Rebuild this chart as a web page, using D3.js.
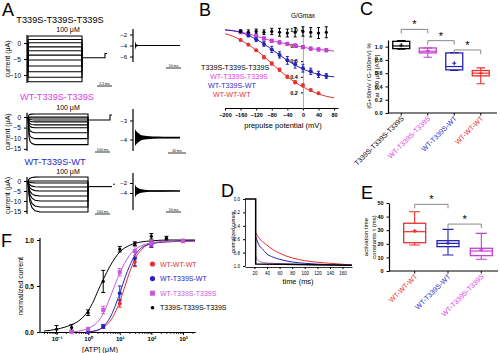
<!DOCTYPE html>
<html>
<head>
<meta charset="utf-8">
<script src="https://cdn.jsdelivr.net/npm/d3@7"></script>
<style>
  body { margin: 0; background: #fff; }
  svg { font-family: "Liberation Sans", Arial, sans-serif; }
</style>
</head>
<body>
<svg id="fig" width="500" height="353"></svg>
<script>
"use strict";

// ---------- groups ----------
var aGroups = ["T339S-T339S-T339S", "WT-T339S-T339S", "WT-T339S-WT", "WT-WT-WT"];
var aColors = ["#000000", "#c640d2", "#2424b4", "#e8302c"];

// ---------- A: current traces (μA) ----------
var aTraceLevels1 = [2.2, 1.1, 0.1, -1.2, -2.4, -3.8, -5.3, -7.2, -9.0, -10.7, -12.1];
var aTraceLevels2 = [1.4, 0, -0.5, -1.4, -2.3, -3.7, -5.1, -7.4, -10.2, -13.0];
var aTraceLevels3 = [2.0, 0, -1.0, -3.0, -5.0, -7.5, -10.0, -13.0, -15.5];
var aOnsetTime = [0, 1, 2, 4, 7, 12];
var aOnsetFrac1 = [1, 1, 1, 1, 1, 1];
var aOnsetFrac2 = [0, 0.7, 0.88, 0.96, 1, 1];
var aOnsetFrac3 = [0, 0.45, 0.68, 0.86, 0.96, 1];
var aTailLevels = [-4.6, -1.4, -2.8];
var aTailStep = [-3.3, 0.9, -2.8];
var aInsetTime = [0, 1, 3, 5, 8, 12, 18, 28, 45];
var aInsetEnv1 = [0.8, 0.3, 0.08, 0.06, 0.05, 0.05, 0.05, 0.05, 0.05];
var aInsetEnv2 = [0.45, 0.36, 0.25, 0.17, 0.11, 0.08, 0.06, 0.05, 0.04];
var aInsetEnv3 = [1.3, 0.9, 0.6, 0.42, 0.3, 0.22, 0.17, 0.14, 0.12];
var aInsetMid = [-4.0, -3.9, -3.6];

// ---------- B: G/Gmax vs prepulse potential ----------
var aVoltB = [-160, -140, -120, -100, -80, -60, -40, -20, 0, 20, 40, 60];
var aGBlack = [0.98, 0.97, 0.98, 0.97, 0.98, 0.97, 0.96, 0.97, 0.98, 0.97, 0.96, 0.97];
var aGBlackErr = [0.02, 0.03, 0.03, 0.03, 0.04, 0.05, 0.05, 0.06, 0.06, 0.06, 0.07, 0.07];
var aGMag = [0.97, 0.95, 0.92, 0.89, 0.86, 0.84, 0.82, 0.80, 0.78, 0.76, 0.75, 0.74];
var aGMagErr = [0.01, 0.01, 0.01, 0.02, 0.02, 0.02, 0.02, 0.02, 0.02, 0.02, 0.02, 0.02];
var aGBlue = [0.98, 0.93, 0.88, 0.82, 0.75, 0.68, 0.61, 0.56, 0.51, 0.47, 0.43, 0.41];
var aGBlueErr = [0.02, 0.02, 0.03, 0.03, 0.04, 0.04, 0.05, 0.05, 0.05, 0.04, 0.04, 0.03];
var aGRed = [0.87, 0.81, 0.74, 0.65, 0.57, 0.49, 0.40, 0.33, 0.29, 0.23, 0.19];
var aGRedErr = [0.01, 0.01, 0.01, 0.02, 0.02, 0.02, 0.02, 0.02, 0.02, 0.01, 0.01];
var aFitVolt = [-200, -180, -160, -140, -120, -100, -80, -60, -40, -20, 0, 20, 40, 60, 80];
var aFitMagB = [1.0, 0.99, 0.97, 0.95, 0.92, 0.89, 0.86, 0.84, 0.82, 0.80, 0.78, 0.76, 0.75, 0.74, 0.73];
var aFitBlueB = [1.0, 0.99, 0.97, 0.93, 0.88, 0.82, 0.75, 0.68, 0.61, 0.55, 0.50, 0.46, 0.43, 0.41, 0.40];
var aFitRedB = [0.95, 0.92, 0.87, 0.81, 0.74, 0.66, 0.57, 0.48, 0.40, 0.33, 0.27, 0.22, 0.18, 0.15, 0.13];

// ---------- C: box stats [min, q1, median, q3, max, mean] ----------
var aBoxC = [
    [0.96, 0.97, 1.01, 1.08, 1.09, 1.02],
    [0.84, 0.905, 0.93, 0.98, 0.98, 0.94],
    [0.64, 0.65, 0.70, 0.905, 0.91, 0.75],
    [0.44, 0.56, 0.60, 0.64, 0.68, 0.60]
];
var aSigC = [[0, 1, 1.26], [1, 2, 1.09], [2, 3, 0.95]];

// ---------- D: normalized current vs time ----------
var aTimeDRed = [22, 25, 30, 40, 50, 60, 80, 100, 140, 175];
var aCurDRed = [0.5, 0.55, 0.61, 0.69, 0.76, 0.81, 0.88, 0.92, 0.96, 0.985];
var aTimeDBlue = [22, 25, 28, 33, 40, 50, 60, 80, 100, 140, 175];
var aCurDBlue = [0.56, 0.64, 0.7, 0.75, 0.82, 0.87, 0.9, 0.94, 0.96, 0.98, 0.99];
var aTimeDMag = [22, 24, 28, 35, 50, 80, 120, 175];
var aCurDMag = [0.85, 0.9, 0.93, 0.95, 0.96, 0.97, 0.985, 0.99];
var aTimeDBlack = [5, 22, 22, 60, 175];
var aCurDBlack = [0, 0, 0.97, 0.975, 0.99];

// ---------- E: activation time constants (ms) ----------
var aGroupsE = ["WT-WT-WT", "WT-T339S-WT", "WT-T339S-T339S"];
var aColorsE = ["#e8302c", "#2424b4", "#c640d2"];
var aBoxE = [
    [19.1, 20.8, 28.9, 35.1, 43.6, 29.5],
    [11.8, 17.9, 20.3, 22.3, 30.6, 20.5],
    [8.6, 11.3, 14.7, 16.7, 27.7, 15.5]
];
var aSigE = [[0, 1, 49], [1, 2, 34.5]];

// ---------- F: dose response ----------
var aConcBlack = [0.1, 0.3, 1, 3, 10, 30, 100, 300];
var aRespBlack = [0.03, 0.05, 0.21, 0.55, 0.9, 0.96, 1.04, 1.02];
var aErrBlack = [0.04, 0.03, 0.03, 0.12, 0.03, 0.02, 0.03, 0.02];
var aConcMag = [0.3, 1, 3, 10, 30, 100, 1000];
var aRespMag = [0.0, 0.03, 0.24, 0.65, 0.88, 0.96, 0.99];
var aErrMag = [0.01, 0.02, 0.04, 0.04, 0.05, 0.03, 0.02];
var aConcBlue = [1, 3, 10, 30, 100, 1000];
var aRespBlue = [0.0, 0.06, 0.42, 0.8, 0.95, 0.99];
var aErrBlue = [0.01, 0.02, 0.08, 0.08, 0.03, 0.01];
var aConcRed = [1, 3, 10, 30, 100, 1000];
var aRespRed = [0.0, 0.06, 0.31, 0.76, 0.95, 0.99];
var aErrRed = [0.01, 0.02, 0.04, 0.05, 0.03, 0.01];
var aFitConcBlack = [0.04, 0.1, 0.3, 0.5, 1, 1.5, 2, 3, 5, 10, 20, 50, 100, 300, 2400];
var aFitBlack = [0.01, 0.03, 0.08, 0.12, 0.23, 0.34, 0.44, 0.57, 0.72, 0.87, 0.94, 0.98, 0.99, 1.0, 1.0];
var aFitConcMag = [0.25, 0.5, 1, 2, 3, 5, 10, 20, 50, 100, 300, 2400];
var aFitMag = [0.0, 0.01, 0.04, 0.11, 0.2, 0.38, 0.64, 0.83, 0.94, 0.97, 0.985, 0.99];
var aFitConcBlue = [0.9, 2, 3, 5, 10, 15, 20, 30, 50, 100, 300, 2400];
var aFitBlue = [0.0, 0.02, 0.06, 0.16, 0.42, 0.6, 0.71, 0.83, 0.92, 0.96, 0.98, 0.99];
var aFitConcRed = [1, 2, 3, 5, 10, 15, 20, 30, 50, 100, 300, 2400];
var aFitRed = [0.0, 0.02, 0.05, 0.12, 0.33, 0.51, 0.64, 0.79, 0.9, 0.96, 0.98, 0.99];
var aLegendF = ["WT-WT-WT", "WT-T339S-WT", "WT-T339S-T339S", "T339S-T339S-T339S"];
var aLegendFColors = ["#e8302c", "#2424c8", "#c85ad8", "#000000"];

var svg = d3.select("#fig");

// ---------- helpers ----------
function txt(g, s, x, y, opt) {
    opt = opt || {};
    var t = g.append("text").attr("x", x).attr("y", y)
        .attr("font-size", opt.size || 7)
        .attr("fill", opt.color || "#000")
        .attr("text-anchor", opt.anchor || "start")
        .text(s);
    if (opt.bold) t.attr("font-weight", "bold");
    if (opt.rotate) t.attr("transform", "rotate(" + opt.rotate + "," + x + "," + y + ")");
    return t;
}

function styleAxis(g, fs, bold, color) {
    g.attr("font-family", null).attr("font-size", fs);
    g.select("path.domain").attr("stroke-width", 1.2).attr("stroke", color || "#000");
    g.selectAll(".tick line").attr("stroke-width", 1);
    g.selectAll(".tick text").attr("font-weight", bold ? "bold" : null);
}

function errBars(g, xs, ys, es, x, y, color, cap) {
    g.selectAll(null).data(xs).enter().append("path")
        .attr("d", function(d, i) {
            var x0 = x(d), y0 = y(ys[i] - es[i]), y1 = y(ys[i] + es[i]);
            return "M" + x0 + "," + y0 + "V" + y1 +
                "M" + (x0 - cap) + "," + y0 + "H" + (x0 + cap) +
                "M" + (x0 - cap) + "," + y1 + "H" + (x0 + cap);
        })
        .attr("stroke", color).attr("stroke-width", 1).attr("fill", "none");
}

function boxPlot(g, stats, xc, y, w, colors) {
    stats.forEach(function(b, i) {
        var cx = xc(i), c = colors[i];
        g.append("path")
            .attr("d", "M" + cx + "," + y(b[0]) + "V" + y(b[1]) + "M" + cx + "," + y(b[3]) + "V" + y(b[4]) +
                "M" + (cx - w / 4) + "," + y(b[0]) + "H" + (cx + w / 4) +
                "M" + (cx - w / 4) + "," + y(b[4]) + "H" + (cx + w / 4))
            .attr("stroke", c).attr("stroke-width", 1.1).attr("fill", "none");
        g.append("rect").attr("x", cx - w / 2).attr("y", y(b[3]))
            .attr("width", w).attr("height", y(b[1]) - y(b[3]))
            .attr("fill", "none").attr("stroke", c).attr("stroke-width", 1.3);
        g.append("line").attr("x1", cx - w / 2).attr("x2", cx + w / 2)
            .attr("y1", y(b[2])).attr("y2", y(b[2]))
            .attr("stroke", c).attr("stroke-width", 1.2);
        g.append("path")
            .attr("d", "M" + (cx - 2) + "," + y(b[5]) + "H" + (cx + 2) + "M" + cx + "," + (y(b[5]) - 2) + "V" + (y(b[5]) + 2))
            .attr("stroke", c).attr("stroke-width", 1.2);
    });
}

function sigBrackets(g, sig, xc, y) {
    sig.forEach(function(s) {
        var x1 = xc(s[0]), x2 = xc(s[1]), yy = y(s[2]);
        g.append("path").attr("d", "M" + x1 + "," + (yy + 4) + "V" + yy + "H" + x2 + "V" + (yy + 4))
            .attr("stroke", "#888").attr("stroke-width", 1).attr("fill", "none");
        txt(g, "*", (x1 + x2) / 2, yy - 1, { size: 11, anchor: "middle" });
    });
}

// ---------- panel letters ----------
[["A", 2, 16], ["B", 199, 16], ["C", 360, 15], ["D", 221, 197], ["E", 361, 199], ["F", 1, 247]].forEach(function(l) {
    txt(svg, l[0], l[1], l[2], { size: 18 });
});

// ---------- A ----------
var gA = svg.append("g");
var xA = d3.scaleLinear().domain([0, 84]).range([28, 112]);
var xIn = d3.scaleLinear().domain([0, 45]).range([135, 180]);
var aPanelsA = [
    { levels: aTraceLevels1, frac: aOnsetFrac1, t1: 54, tEnd: 77, dom: [-12.5, 2.5], rng: [83, 35], ticks: [0, -5, -10],
      title: aGroups[0], tColor: "#000", tx: 60, ty: 23, cy: 32, bar: [97, 112, 86, "2.5 ms"],
      inDom: [-7, -1], inRng: [62, 29], inTicks: [-2, -4, -6], env: aInsetEnv1, inBar: [166, 181, 68, "10 ms"] },
    { levels: aTraceLevels2, frac: aOnsetFrac2, t1: 60, tEnd: 82, dom: [-16, 2], rng: [151, 112.7], ticks: [0, -5, -10, -15],
      title: aGroups[1], tColor: "#e040e8", tx: 57, ty: 100, cy: 110, bar: [95, 110, 152, "100 ms"],
      inDom: [-4.6, -2.4], inRng: [151, 109], inTicks: [-3, -4], env: aInsetEnv2, inBar: [168, 186, 153, "40 ms"] },
    { levels: aTraceLevels3, frac: aOnsetFrac3, t1: 60, tEnd: 82, dom: [-16.5, 2], rng: [214, 177], ticks: [0, -5, -10, -15],
      title: aGroups[2], tColor: "#2a2ad0", tx: 55, ty: 165, cy: 174, bar: [95, 110, 214, "100 ms"],
      inDom: [-7.4, 0], inRng: [210, 173], inTicks: [-2, -4], env: aInsetEnv3, inBar: [166, 181, 212, "10 ms"] }
];

aPanelsA.forEach(function(p, k) {
    var y = d3.scaleLinear().domain(p.dom).range(p.rng);
    var line = d3.line().x(function(d) { return xA(d[0]); }).y(function(d) { return y(d[1]); });

    p.levels.forEach(function(L) {
        var pts = [[0, 0]];
        aOnsetTime.forEach(function(t, i) { pts.push([t, L * p.frac[i]]); });
        pts.push([p.t1, L], [p.t1, aTailLevels[k]]);
        gA.append("path").datum(pts).attr("d", line)
            .attr("fill", "none").attr("stroke", "#000").attr("stroke-width", 1.1);
    });
    var tail = [[p.t1, aTailLevels[k]], [p.tEnd, aTailLevels[k]], [p.tEnd, aTailStep[k]], [p.tEnd + 2, aTailStep[k]]];
    gA.append("path").datum(tail).attr("d", line)
        .attr("fill", "none").attr("stroke", "#000").attr("stroke-width", 1.1);
    if (k === 2) {
        gA.append("circle").attr("cx", xA(p.tEnd + 4)).attr("cy", y(aTailLevels[k] + 1.2)).attr("r", 0.8);
    }

    var ax = gA.append("g").attr("transform", "translate(27,0)")
        .call(d3.axisLeft(y).tickValues(p.ticks).tickSize(3).tickFormat(d3.format("d")));
    styleAxis(ax, 6.5, false);
    ax.select("path.domain").attr("d", "M0," + p.rng[0] + "V" + p.rng[1]);

    txt(gA, "current (μA)", 10, (p.rng[0] + p.rng[1]) / 2, { size: 7, anchor: "middle", rotate: -90 });
    txt(gA, p.title, p.tx, p.ty, { size: 9.2, anchor: "middle", color: p.tColor });
    txt(gA, "100 μM", 68, p.cy, { size: 7, anchor: "middle" });

    gA.append("line").attr("x1", p.bar[0]).attr("x2", p.bar[1]).attr("y1", p.bar[2]).attr("y2", p.bar[2])
        .attr("stroke", "#000").attr("stroke-width", 0.8);
    txt(gA, p.bar[3], (p.bar[0] + p.bar[1]) / 2, p.bar[2] - 1, { size: 3.5, anchor: "middle" });

    // inset
    var yi = d3.scaleLinear().domain(p.inDom).range(p.inRng);
    var mid = aInsetMid[k];
    var area = d3.area().curve(d3.curveMonotoneX)
        .x(function(d, i) { return xIn(aInsetTime[i]); })
        .y0(function(d) { return yi(mid - d); })
        .y1(function(d) { return yi(mid + d); });
    gA.append("path").datum(p.env).attr("d", area).attr("fill", "#000");
    gA.append("line").attr("x1", xIn(0)).attr("x2", xIn(45)).attr("y1", yi(mid)).attr("y2", yi(mid))
        .attr("stroke", "#000").attr("stroke-width", 1);
    var axi = gA.append("g").attr("transform", "translate(133,0)")
        .call(d3.axisLeft(yi).tickValues(p.inTicks).tickSize(3).tickFormat(d3.format("d")));
    styleAxis(axi, 6, false);
    axi.select("path.domain").attr("d", "M0," + p.inRng[0] + "V" + p.inRng[1]);
    gA.append("line").attr("x1", p.inBar[0]).attr("x2", p.inBar[1]).attr("y1", p.inBar[2]).attr("y2", p.inBar[2])
        .attr("stroke", "#000").attr("stroke-width", 0.8);
    txt(gA, p.inBar[3], (p.inBar[0] + p.inBar[1]) / 2, p.inBar[2] - 1, { size: 3.5, anchor: "middle" });
});

// ---------- B ----------
var gB = svg.append("g");
var xB = d3.scaleLinear().domain([-200, 90]).range([225, 338]);
var yB = d3.scaleLinear().domain([0, 1.05]).range([108, 26]);

var axBx = gB.append("g").attr("transform", "translate(0,108)")
    .call(d3.axisBottom(xB).tickValues(d3.range(-200, 81, 40)).tickSize(2.5).tickSizeOuter(0));
styleAxis(axBx, 5.5, true);
var axBy = gB.append("g").attr("transform", "translate(" + xB(0) + ",0)")
    .call(d3.axisLeft(yB).tickValues([0.2, 0.4, 0.6, 0.8, 1.0]).tickSize(2).tickSizeOuter(0).tickFormat(d3.format(".1f")));
styleAxis(axBy, 5.5, true, "#aaa");
axBy.select("path.domain").attr("stroke-width", 1);
txt(gB, "G/Gmax", 303, 18, { size: 6.5, anchor: "middle" });
txt(gB, "prepulse potential (mV)", 283, 128, { size: 7.5, anchor: "middle" });

var fitLineB = function(arr) {
    return d3.line().curve(d3.curveMonotoneX)
        .x(function(d, i) { return xB(aFitVolt[i]); })
        .y(function(d) { return yB(d); })(arr);
};
[[aFitMagB, aColors[1]], [aFitBlueB, aColors[2]], [aFitRedB, aColors[3]]].forEach(function(f) {
    gB.append("path").attr("d", fitLineB(f[0])).attr("fill", "none").attr("stroke", f[1]).attr("stroke-width", 1);
});

errBars(gB, aVoltB, aGBlack, aGBlackErr, xB, yB, "#000", 1.5);
errBars(gB, aVoltB, aGMag, aGMagErr, xB, yB, aColors[1], 1.5);
errBars(gB, aVoltB, aGBlue, aGBlueErr, xB, yB, aColors[2], 1.5);
errBars(gB, aVoltB.slice(0, aGRed.length), aGRed, aGRedErr, xB, yB, aColors[3], 1.5);

gB.selectAll(null).data(aVoltB).enter().append("rect")
    .attr("x", function(d) { return xB(d) - 2; }).attr("y", function(d, i) { return yB(aGMag[i]) - 2; })
    .attr("width", 4).attr("height", 4).attr("fill", aColors[1]);
gB.selectAll(null).data(aVoltB).enter().append("circle")
    .attr("cx", function(d) { return xB(d); }).attr("cy", function(d, i) { return yB(aGBlue[i]); })
    .attr("r", 2).attr("fill", aColors[2]);
gB.selectAll(null).data(aGRed).enter().append("circle")
    .attr("cx", function(d, i) { return xB(aVoltB[i]); }).attr("cy", function(d) { return yB(d); })
    .attr("r", 2).attr("fill", aColors[3]);
gB.selectAll(null).data(aVoltB).enter().append("circle")
    .attr("cx", function(d) { return xB(d); }).attr("cy", function(d, i) { return yB(aGBlack[i]); })
    .attr("r", 1.6).attr("fill", "#000");

[[aGroups[0], 201, 70, "#000"], [aGroups[1], 210, 79, "#e040e8"], [aGroups[2], 208, 88, "#2a2ad0"], [aGroups[3], 213, 97, "#e8302c"]]
    .forEach(function(l) { txt(gB, l[0], l[1], l[2], { size: 7.2, color: l[3] }); });

// ---------- C ----------
var gC = svg.append("g");
var xC = d3.scaleBand().domain(d3.range(4)).range([388, 494]);
var xcC = function(i) { return xC(i) + xC.bandwidth() / 2; };
var yC = d3.scaleLinear().domain([0, 1.1]).range([113, 40]);
var axCy = gC.append("g").attr("transform", "translate(388,0)")
    .call(d3.axisLeft(yC).tickValues([0, 0.2, 0.4, 0.6, 0.8, 1.0]).tickSize(2.5).tickSizeOuter(0).tickFormat(d3.format(".1f")));
styleAxis(axCy, 5.5, true);
var axCx = gC.append("g").attr("transform", "translate(0,113)")
    .call(d3.axisBottom(xC).tickSize(2.5).tickSizeOuter(0).tickFormat(""));
styleAxis(axCx, 5.5, true);
axCx.select("path.domain").attr("d", "M388,0H497");
boxPlot(gC, aBoxC, xcC, yC, 17, aColors);
sigBrackets(gC, aSigC, xcC, yC);
aGroups.forEach(function(s, i) {
    txt(gC, s, xcC(i) + 3, 119, { size: 7, anchor: "end", rotate: -45, color: ["#000", "#e040e8", "#2a2ad0", "#e8302c"][i] });
});
txt(gC, "(G+60mV / G-100mV) %", 371, 76, { size: 6, anchor: "middle", rotate: -90 });
txt(gC, "at 100 μM [ATP]", 379, 76, { size: 6, anchor: "middle", rotate: -90 });

// ---------- D ----------
var gD = svg.append("g");
var xD = d3.scaleLinear().domain([5, 175]).range([245, 352]);
var yD = d3.scaleLinear().domain([0, 1]).range([199, 266]);
var axDx = gD.append("g").attr("transform", "translate(0,267)")
    .call(d3.axisBottom(xD).tickValues(d3.range(20, 161, 20)).tickSize(2).tickSizeOuter(0));
styleAxis(axDx, 4.5, false);
axDx.select("path.domain").attr("stroke-width", 0.8);
var axDy = gD.append("g").attr("transform", "translate(245,0)")
    .call(d3.axisLeft(yD).tickValues([0, 0.2, 0.4, 0.6, 0.8, 1.0]).tickSize(2).tickSizeOuter(0).tickFormat(d3.format(".1f")));
styleAxis(axDy, 4.5, false);
axDy.select("path.domain").attr("stroke-width", 0.8);
txt(gD, "normalized current", 235, 232, { size: 5, anchor: "middle", rotate: -90 });
txt(gD, "time (ms)", 298, 284, { size: 7.5, anchor: "middle" });

var lineD = function(ts, vs, curve) {
    return d3.line().curve(curve)
        .x(function(d, i) { return xD(ts[i]); })
        .y(function(d) { return yD(d); })(vs);
};
[[aTimeDRed, aCurDRed, aColors[3]], [aTimeDBlue, aCurDBlue, aColors[2]], [aTimeDMag, aCurDMag, "#b070d8"]].forEach(function(c) {
    gD.append("path").attr("d", lineD(c[0], c[1], d3.curveMonotoneX))
        .attr("fill", "none").attr("stroke", c[2]).attr("stroke-width", 1);
});
gD.append("path").attr("d", lineD(aTimeDBlack, aCurDBlack, d3.curveLinear))
    .attr("fill", "none").attr("stroke", "#000").attr("stroke-width", 1.5);

// ---------- E ----------
var gE = svg.append("g");
var xE = d3.scaleBand().domain(d3.range(3)).range([398, 498]);
var xcE = function(i) { return xE(i) + xE.bandwidth() / 2; };
var yE = d3.scaleLinear().domain([0, 50]).range([271, 203]);
var axEy = gE.append("g").attr("transform", "translate(389,0)")
    .call(d3.axisLeft(yE).tickValues(d3.range(0, 51, 10)).tickSize(2.5).tickSizeOuter(0));
styleAxis(axEy, 5.5, true);
var axEx = gE.append("g").attr("transform", "translate(0,271)")
    .call(d3.axisBottom(xE).tickSize(2.5).tickSizeOuter(0).tickFormat(""));
styleAxis(axEx, 5.5, true);
axEx.select("path.domain").attr("d", "M389,0H498");
boxPlot(gE, aBoxE, xcE, yE, 22, aColorsE);
sigBrackets(gE, aSigE, xcE, yE);
aGroupsE.forEach(function(s, i) {
    txt(gE, s, xcE(i) + 3, 277, { size: 7, anchor: "end", rotate: -45, color: ["#e8302c", "#2a2ad0", "#e040e8"][i] });
});
txt(gE, "activation time", 368, 237, { size: 6, anchor: "middle", rotate: -90 });
txt(gE, "constants τ (ms)", 376, 237, { size: 6, anchor: "middle", rotate: -90 });

// ---------- F ----------
var gF = svg.append("g");
var xF = d3.scaleLog().domain([0.03, 2400]).range([40, 195]);
var yF = d3.scaleLinear().domain([0, 1.1]).range([332, 230.8]);
var aMinor = [];
[0.01, 0.1, 1, 10, 100, 1000].forEach(function(dec) {
    d3.range(2, 10).forEach(function(m) {
        var v = dec * m;
        if (v > 0.03 && v < 2400) aMinor.push(v);
    });
});
var axFm = gF.append("g").attr("transform", "translate(0,332)")
    .call(d3.axisBottom(xF).tickValues(aMinor).tickSize(1.8).tickSizeOuter(0).tickFormat(""));
styleAxis(axFm, 6, true);
var aSup = { "0.1": "10⁻¹", "1": "10⁰", "10": "10¹", "100": "10²", "1000": "10³" };
var axFx = gF.append("g").attr("transform", "translate(0,332)")
    .call(d3.axisBottom(xF).tickValues([0.1, 1, 10, 100, 1000]).tickSize(3).tickPadding(1.5).tickSizeOuter(0)
        .tickFormat(function(d) { return aSup[String(d)]; }));
styleAxis(axFx, 6, true);
var axFy = gF.append("g").attr("transform", "translate(40,0)")
    .call(d3.axisLeft(yF).tickValues([0, 0.5, 1.0]).tickSize(3).tickSizeOuter(0).tickFormat(d3.format(".1f")));
styleAxis(axFy, 6.5, true);
axFy.select("path.domain").attr("d", "M0,332V238");
txt(gF, "normalized current", 23, 286, { size: 7, anchor: "middle", rotate: -90 });
txt(gF, "[ATP] (μM)", 100, 352, { size: 7.5, anchor: "middle" });

var lineF = function(cs, vs) {
    return d3.line().curve(d3.curveMonotoneX)
        .x(function(d, i) { return xF(cs[i]); })
        .y(function(d) { return yF(d); })(vs);
};
[[aFitConcRed, aFitRed, aLegendFColors[0]], [aFitConcBlue, aFitBlue, aLegendFColors[1]],
 [aFitConcMag, aFitMag, aLegendFColors[2]], [aFitConcBlack, aFitBlack, "#000"]].forEach(function(f) {
    gF.append("path").attr("d", lineF(f[0], f[1])).attr("fill", "none").attr("stroke", f[2]).attr("stroke-width", 1);
});
errBars(gF, aConcRed, aRespRed, aErrRed, xF, yF, aLegendFColors[0], 2);
errBars(gF, aConcBlue, aRespBlue, aErrBlue, xF, yF, aLegendFColors[1], 2);
errBars(gF, aConcMag, aRespMag, aErrMag, xF, yF, aLegendFColors[2], 2);
errBars(gF, aConcBlack, aRespBlack, aErrBlack, xF, yF, "#000", 2);
gF.selectAll(null).data(aConcRed).enter().append("circle")
    .attr("cx", function(d) { return xF(d); }).attr("cy", function(d, i) { return yF(aRespRed[i]); })
    .attr("r", 2).attr("fill", aLegendFColors[0]);
gF.selectAll(null).data(aConcBlue).enter().append("circle")
    .attr("cx", function(d) { return xF(d); }).attr("cy", function(d, i) { return yF(aRespBlue[i]); })
    .attr("r", 2).attr("fill", aLegendFColors[1]);
gF.selectAll(null).data(aConcMag).enter().append("rect")
    .attr("x", function(d) { return xF(d) - 2; }).attr("y", function(d, i) { return yF(aRespMag[i]) - 2; })
    .attr("width", 4).attr("height", 4).attr("fill", aLegendFColors[2]);
gF.selectAll(null).data(aConcBlack).enter().append("circle")
    .attr("cx", function(d) { return xF(d); }).attr("cy", function(d, i) { return yF(aRespBlack[i]); })
    .attr("r", 1.6).attr("fill", "#000");

// legend F
aLegendF.forEach(function(s, i) {
    var ly = 264 + i * 14.6;
    if (i === 2) {
        gF.append("rect").attr("x", 150).attr("y", ly - 2.5).attr("width", 5).attr("height", 5).attr("fill", aLegendFColors[i]);
    } else {
        gF.append("circle").attr("cx", 152.5).attr("cy", ly).attr("r", i === 3 ? 1.8 : 2.6).attr("fill", aLegendFColors[i]);
    }
    txt(gF, s, 160, ly + 2.5, { size: 7, color: aLegendFColors[i] });
});
</script>
</body>
</html>
